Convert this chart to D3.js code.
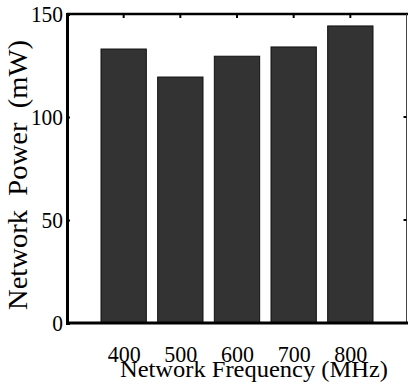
<!DOCTYPE html>
<html>
<head>
<meta charset="utf-8">
<script src="https://cdn.jsdelivr.net/npm/d3@7"></script>
<style>
  body { margin: 0; background: #fff; }
  text { font-family: "Liberation Serif", "Times New Roman", serif; fill: #000; }
</style>
</head>
<body>
<div id="chart"></div>
<script>
// data
var frequencies = [400, 500, 600, 700, 800];
var powers = [133, 119.4, 129.5, 134, 144.2];
var yTicks = [0, 50, 100, 150];

var width = 408, height = 385;
var padding = { top: 14, right: 1.5, bottom: 62, left: 67 };

var svg = d3.select("#chart")
    .append("svg")
    .attr("width", width)
    .attr("height", height);

var xScale = d3.scaleLinear()
    .domain([300, 900])
    .range([padding.left, padding.left + 340]);
var yScale = d3.scaleLinear()
    .domain([0, 150])
    .range([height - padding.bottom - 0, padding.top]);

var unit = xScale(400) - xScale(300);
var barW = unit * 0.8;

// bars
svg.append("g")
    .selectAll("rect")
    .data(powers)
    .enter()
    .append("rect")
    .attr("x", function(d, i) { return xScale(frequencies[i]) - barW / 2; })
    .attr("y", function(d) { return yScale(d); })
    .attr("width", barW)
    .attr("height", function(d) { return yScale(0) - yScale(d); })
    .attr("fill", "#333333")
    .attr("stroke", "#111")
    .attr("stroke-width", 1);

// box: top + right
var x0 = xScale(300), x1 = xScale(900) - 0.5;
svg.append("line")
    .attr("x1", x0).attr("x2", width)
    .attr("y1", yScale(150)).attr("y2", yScale(150))
    .attr("stroke", "#000").attr("stroke-width", 2.5);
svg.append("line")
    .attr("x1", x1).attr("x2", x1)
    .attr("y1", yScale(150)).attr("y2", yScale(0))
    .attr("stroke", "#444").attr("stroke-width", 1);

// top ticks at bar centres
svg.append("g")
    .selectAll("line")
    .data(frequencies)
    .enter()
    .append("line")
    .attr("x1", function(d) { return xScale(d); })
    .attr("x2", function(d) { return xScale(d); })
    .attr("y1", yScale(150))
    .attr("y2", yScale(150) + 4)
    .attr("stroke", "#000").attr("stroke-width", 2);

// right ticks
svg.append("g")
    .selectAll("line")
    .data([50, 100])
    .enter()
    .append("line")
    .attr("x1", x1 - 3).attr("x2", x1)
    .attr("y1", function(d) { return yScale(d); })
    .attr("y2", function(d) { return yScale(d); })
    .attr("stroke", "#000").attr("stroke-width", 2);

// y axis
var yAxis = d3.axisLeft(yScale).tickValues(yTicks).tickSize(-3).tickPadding(6);
var gy = svg.append("g")
    .attr("class", "axis")
    .attr("transform", "translate(" + x0 + ",0)")
    .call(yAxis);
gy.select(".domain").attr("stroke", "#000").attr("stroke-width", 3);
gy.selectAll(".tick line").attr("stroke", "#000").attr("stroke-width", 2);
gy.selectAll(".tick text")
    .attr("font-family", "Liberation Serif")
    .attr("font-size", 23)
    .attr("x", -4)
    .attr("dy", "0.34em")
    .attr("textLength", function(d) { return String(d).length * 10.7; })
    .attr("lengthAdjust", "spacingAndGlyphs");

// x axis
var xAxis = d3.axisBottom(xScale).tickValues(frequencies).tickSize(0).tickPadding(0)
    .tickSizeOuter(0);
var gx = svg.append("g")
    .attr("class", "axis")
    .attr("transform", "translate(0," + yScale(0) + ")")
    .call(xAxis);
gx.select(".domain").attr("stroke", "#000").attr("stroke-width", 3)
    .attr("d", "M" + x0 + ",0H" + width);
gx.selectAll(".tick text")
    .attr("font-family", "Liberation Serif")
    .attr("font-size", 23)
    .attr("y", 39)
    .attr("dy", 0)
    .attr("textLength", 33)
    .attr("lengthAdjust", "spacingAndGlyphs");

// axis labels
svg.append("text")
    .attr("x", 254)
    .attr("y", 377)
    .attr("text-anchor", "middle")
    .attr("font-size", 24)
    .attr("textLength", 268)
    .attr("lengthAdjust", "spacingAndGlyphs")
    .text("Network Frequency (MHz)");

svg.append("text")
    .attr("transform", "translate(27,175) rotate(-90)")
    .attr("text-anchor", "middle")
    .attr("font-size", 27)
    .attr("textLength", 270)
    .attr("lengthAdjust", "spacingAndGlyphs")
    .style("white-space", "pre")
    .text("Network  Power  (mW)");
</script>
</body>
</html>
